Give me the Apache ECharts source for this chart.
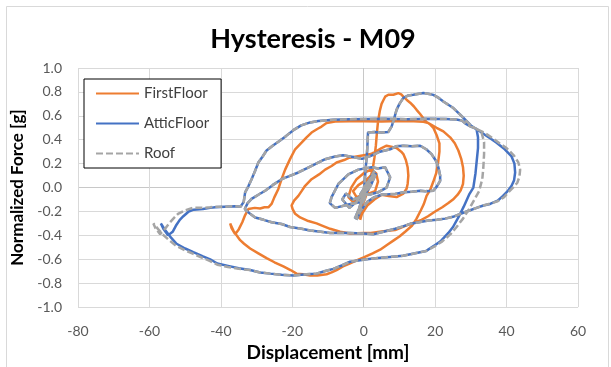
<!DOCTYPE html>
<html>
<head>
<meta charset="utf-8">
<script src="https://cdn.jsdelivr.net/npm/echarts@6/dist/echarts.min.js"></script>
<style>
html,body{margin:0;padding:0;background:#fff;}
#chart{width:611px;height:367px;}
</style>
</head>
<body>
<div id="chart"></div>
<script>
const seriesNames = ["FirstFloor", "AtticFloor", "Roof"];
const xTicks = [-80, -60, -40, -20, 0, 20, 40, 60];
const yTicks = [-1.0, -0.8, -0.6, -0.4, -0.2, 0.0, 0.2, 0.4, 0.6, 0.8, 1.0];

const firstFloor = [
[0,0],[1,0.05],[-0.5,-0.05],[2,0.1],[-1,-0.12],[0.5,0.02],[3,0.12],[-1,-0.2],[-1.5,-0.26],[0,-0.1],[1.5,0.05],
[-1,-0.1],[-3,-0.12],[-4.3,-0.08],[-3.5,0.0],[-2,0.07],[0,0.12],[2,0.15],[3.5,0.12],[4,0.05],[3.2,-0.03],[1.5,-0.05],[0.5,-0.03],
[1.5,0.05],[2.5,0.15],[3,0.25],[3.4,0.35],[3.7,0.46],[4,0.55],[4.5,0.64],[5,0.7],[5.5,0.73],[6,0.76],[6.9,0.776],[8.3,0.776],[9.7,0.79],[10.5,0.78],[11.1,0.76],[12,0.735],[13,0.71],[14,0.68],[14.8,0.65],[15.8,0.615],[16.7,0.58],[17.5,0.55],[18.5,0.53],
[19.5,0.5],[20.4,0.44],[21.2,0.37],[21.2,0.3],[20.8,0.2],[20.3,0.12],[19.5,0.05],[18.6,-0.02],[17.6,-0.07],[16.8,-0.14],[16,-0.19],[14.8,-0.26],[13.5,-0.32],[11.6,-0.37],[10,-0.41],[8.5,-0.44],[6.5,-0.48],[4.6,-0.52],[2.5,-0.55],[0,-0.585],[-2,-0.61],[-3.8,-0.635],[-5.8,-0.66],[-7.6,-0.69],[-9,-0.71],[-10.4,-0.725],[-13,-0.735],[-15,-0.735],[-17,-0.725],[-18.8,-0.72],[-20.5,-0.69],[-22.5,-0.66],[-25,-0.625],[-27.2,-0.59],[-29.5,-0.55],[-31.8,-0.51],[-33.5,-0.47],[-34.6,-0.44],[-35.6,-0.40],
[-36.5,-0.36],[-37.4,-0.30],[-37,-0.34],[-36,-0.39],
[-35,-0.35],[-34,-0.29],[-33.2,-0.23],[-32.3,-0.18],[-30.5,-0.17],[-29,-0.175],[-27.8,-0.165],[-26.7,-0.165],[-25.8,-0.137],[-25,-0.08],[-23.9,-0.012],[-23,0.07],[-22,0.15],[-20.6,0.24],[-19.2,0.32],[-17.4,0.375],[-16,0.42],[-14.6,0.46],[-13,0.49],[-11.8,0.51],[-10.4,0.54],[-8,0.552],[-4,0.555],[0,0.555],[5,0.553],[10,0.556],[14,0.555],[16.7,0.55],[18.1,0.54],
[20.4,0.5],[22.3,0.47],[24.2,0.42],[25.5,0.37],[26.5,0.31],[27.3,0.24],[27.8,0.17],[28,0.1],[27.8,0.03],[27.2,-0.02],[26.3,-0.06],[25,-0.1],[23.7,-0.13],[22,-0.165],[20,-0.2],[18,-0.24],[16.2,-0.27],[14.4,-0.29],[12.5,-0.31],[10.5,-0.335],[8.8,-0.355],[5.5,-0.365],[2,-0.38],[0,-0.38],[-3.8,-0.385],[-6.6,-0.37],[-9.4,-0.345],[-11.5,-0.32],[-13.2,-0.30],[-15.5,-0.28],[-17.8,-0.25],[-19.2,-0.22],[-19.9,-0.18],[-20.2,-0.15],
[-19.5,-0.11],[-18.3,-0.07],[-17.4,-0.03],[-16.4,0.015],[-14.6,0.07],[-12.5,0.11],[-10.8,0.15],[-9,0.18],[-7.6,0.21],[-5.5,0.23],[-4,0.25],[-2,0.26],[0,0.27],[2,0.28],[3.6,0.305],[5,0.33],[6.4,0.35],[8,0.34],[9.2,0.33],[10.5,0.3],[11.1,0.28],[11.8,0.23],[12.3,0.17],[12.5,0.1],[12.3,0.03],[12,-0.01],[11.1,-0.05],[9.2,-0.08],[7,-0.07],[5,-0.06],
[3,-0.1],[1,-0.15],[-0.5,-0.22],[-1,-0.27],[-0.3,-0.15],[1,-0.02],[2.5,0.08],[1.5,0.02],[0,-0.06],[-2,-0.08],[-3,-0.03],[-1.5,0.02],[0.5,0.06],[2,0.1],[1,0.03],[0,0]
];

const atticFloor = [
[0,0],[1.5,0.06],[-1,-0.06],[2.5,0.1],[-2,-0.12],[1,0.03],[3,0.14],[-1.5,-0.2],[-2.5,-0.26],[-0.5,-0.12],
[-4,-0.14],[-8,-0.17],[-9.5,-0.13],[-9,-0.08],[-7.1,0.03],[-4.3,0.11],[-1.5,0.15],[2.2,0.17],[4,0.16],[6,0.17],[7.4,0.085],[6.4,0.0],[4,-0.04],[1.5,-0.06],[0,-0.04],
[0.3,0.05],[0.5,0.15],[0.8,0.24],[1,0.33],[1.2,0.46],[3,0.465],[5,0.46],[6.9,0.465],[7.8,0.51],[8.3,0.555],[9.2,0.65],[10,0.7],[11.1,0.75],[12.5,0.77],[13.9,0.776],[15.5,0.785],[16.7,0.79],[18,0.785],[19.5,0.775],[21,0.75],[22.3,0.72],[23.8,0.69],[25.1,0.665],[27,0.61],[28.5,0.565],[30,0.52],[31.6,0.485],
[32,0.42],[32,0.33],[31.6,0.21],[31.3,0.12],[30.7,0.0],[29.5,-0.06],[28,-0.16],[26.5,-0.25],[25,-0.33],[23.7,-0.38],[21.5,-0.45],[20,-0.48],[17.5,-0.53],[14.4,-0.55],[11,-0.57],[7.4,-0.58],[4,-0.59],[0.8,-0.6],[-3.8,-0.62],[-6,-0.65],[-8.5,-0.68],[-11,-0.7],[-13.2,-0.72],[-16,-0.725],[-19.7,-0.735],[-23,-0.73],[-26.2,-0.72],[-29,-0.71],[-31.8,-0.69],[-35,-0.675],[-38,-0.655],[-41,-0.635],[-43,-0.6],[-45,-0.575],[-47.7,-0.54],[-50,-0.51],[-52.4,-0.47],[-54.2,-0.41],
[-55.5,-0.36],[-56.8,-0.30],[-56,-0.35],[-54.8,-0.40],
[-53.5,-0.37],[-52.6,-0.32],[-51.5,-0.27],[-50.5,-0.24],[-49,-0.2],[-47.6,-0.185],[-45,-0.18],[-43,-0.17],[-41.6,-0.165],[-39,-0.16],[-36,-0.156],[-34.5,-0.16],[-33.6,-0.12],
[-33.2,-0.04],[-32.3,0.01],[-31.4,0.07],[-30.4,0.14],[-29.5,0.21],[-28.3,0.26],[-27.2,0.31],[-25.5,0.35],[-23.6,0.39],[-21.8,0.43],[-19.7,0.48],[-17.5,0.52],[-15,0.545],[-12.7,0.556],[-8.5,0.568],[-4,0.572],[0.8,0.574],[6,0.575],[12,0.572],[18,0.575],[23,0.573],[26,0.57],[27.5,0.56],[28.5,0.535],[30,0.51],[31.6,0.49],
[34,0.44],[35.5,0.41],[37.2,0.375],[39.5,0.32],[41.4,0.26],[42.2,0.2],[42.4,0.126],[42.1,0.06],[41.4,0.015],[40.3,-0.03],[39,-0.07],[37.5,-0.11],[35.4,-0.137],[33.5,-0.15],[31.6,-0.17],[29.8,-0.19],[27.5,-0.215],[25,-0.245],[22.8,-0.26],[20.5,-0.27],[18.1,-0.275],[15.5,-0.29],[13.4,-0.30],[11,-0.325],[8.8,-0.345],[5.5,-0.37],[2.7,-0.39],[0,-0.385],[-3.8,-0.38],[-6.5,-0.38],[-9.4,-0.38],[-12,-0.37],[-15,-0.36],[-17.4,-0.345],[-20.6,-0.33],[-23,-0.305],[-25.8,-0.29],[-28,-0.27],[-30.4,-0.25],[-31.8,-0.22],[-33.3,-0.18],
[-32.5,-0.13],[-31.4,-0.095],[-29.5,-0.06],[-27.6,-0.027],[-25.5,0.02],[-23,0.07],[-20.5,0.1],[-18.3,0.126],[-16,0.16],[-13.6,0.195],[-10.8,0.237],[-8,0.26],[-5.8,0.27],[-3,0.255],[-0.5,0.24],[2,0.265],[4.5,0.3],[7.4,0.32],[9,0.345],[11.1,0.35],[13.5,0.345],[15.8,0.35],[17.5,0.32],[19,0.28],[20.3,0.22],[20.9,0.17],[21.4,0.1],[21.4,0.056],[20.5,0.01],[19.5,-0.027],[17.2,-0.03],[15.8,-0.027],[13.5,-0.035],[11.1,-0.04],[8.8,-0.054],[7.4,-0.055],[5,-0.06],
[3,-0.08],[1,-0.12],[-1,-0.2],[-2,-0.27],[-1.5,-0.2],[-0.5,-0.1],[1,0.0],[2,0.08],[1,0.02],[-1,-0.08],[-3,-0.1],[-5,-0.05],[-6,-0.1],[-4,-0.17],[-2,-0.12],[0,-0.05],[2,0.05],[3.5,0.12],[2,0.02],[0,-0.08]
];

const roof = [
[0,0],[1.5,0.06],[-1,-0.06],[2.5,0.1],[-2,-0.12],[1,0.03],[3,0.14],[-1.5,-0.2],[-2.5,-0.26],[-0.5,-0.12],
[-4,-0.14],[-8,-0.17],[-9.5,-0.13],[-9,-0.08],[-7.1,0.03],[-4.3,0.11],[-1.5,0.15],[2.2,0.17],[4,0.16],[6,0.17],[7.4,0.085],[6.4,0.0],[4,-0.04],[1.5,-0.06],[0,-0.04],
[0.3,0.05],[0.5,0.15],[0.8,0.24],[1,0.33],[1.2,0.46],[3,0.465],[5,0.46],[6.9,0.465],[7.8,0.51],[8.3,0.555],[9.2,0.65],[10,0.7],[11.1,0.75],[12.5,0.77],[13.9,0.776],[15.5,0.785],[16.7,0.79],[18,0.785],[19.5,0.775],[21,0.75],[22.3,0.72],[23.8,0.69],[25.1,0.665],[27,0.61],[28.5,0.565],[30,0.52],[31.6,0.49],
[33,0.46],[33.7,0.38],[33.7,0.28],[33.5,0.17],[33.2,0.07],[32.3,-0.03],[31,-0.1],[29.5,-0.18],[27.8,-0.26],[26,-0.33],[24.3,-0.39],[22,-0.45],[20,-0.49],[17.5,-0.53],[14.4,-0.55],[11,-0.57],[7.4,-0.58],[4,-0.59],[0.8,-0.6],[-3.8,-0.62],[-6,-0.65],[-8.5,-0.68],[-11,-0.7],[-13.2,-0.72],[-16,-0.725],[-19.7,-0.735],[-23,-0.73],[-26.2,-0.72],[-29,-0.71],[-31.8,-0.69],[-35,-0.68],[-38,-0.665],[-41,-0.645],[-43,-0.615],[-45,-0.59],[-47.7,-0.555],[-50,-0.525],[-52.4,-0.49],[-54.5,-0.44],[-56,-0.40],
[-57.5,-0.35],[-58.9,-0.30],[-58.3,-0.34],[-57,-0.39],
[-55.5,-0.34],[-54.5,-0.3],[-53.3,-0.26],[-52,-0.22],[-50,-0.19],[-47.7,-0.168],[-45,-0.17],[-43,-0.165],[-41.6,-0.16],[-39,-0.16],[-36,-0.156],[-34.5,-0.16],[-33.6,-0.12],
[-33.2,-0.04],[-32.3,0.01],[-31.4,0.07],[-30.4,0.14],[-29.5,0.21],[-28.3,0.26],[-27.2,0.31],[-25.5,0.35],[-23.6,0.39],[-21.8,0.43],[-19.7,0.48],[-17.5,0.52],[-15,0.545],[-12.7,0.556],[-8.5,0.568],[-4,0.572],[0.8,0.574],[6,0.575],[12,0.572],[18,0.575],[23,0.573],[26,0.57],[27.5,0.56],[28.5,0.535],[30,0.51],[31.6,0.49],
[33,0.47],[34.5,0.445],[36,0.415],[38,0.37],[40,0.33],[42,0.27],[43.3,0.21],[43.8,0.15],[43.6,0.09],[43,0.04],[41.8,0.0],[40.5,-0.04],[39.3,-0.08],[37.5,-0.115],[35.4,-0.135],[33.5,-0.15],[31.6,-0.17],[29.8,-0.19],[27.5,-0.215],[25,-0.245],[22.8,-0.26],[20.5,-0.27],[18.1,-0.275],[15.5,-0.29],[13.4,-0.30],[11,-0.325],[8.8,-0.345],[5.5,-0.37],[2.7,-0.39],[0,-0.385],[-3.8,-0.38],[-6.5,-0.38],[-9.4,-0.38],[-12,-0.37],[-15,-0.36],[-17.4,-0.345],[-20.6,-0.33],[-23,-0.305],[-25.8,-0.29],[-28,-0.27],[-30.4,-0.25],[-31.8,-0.22],[-33.3,-0.18],
[-32.5,-0.13],[-31.4,-0.095],[-29.5,-0.06],[-27.6,-0.027],[-25.5,0.02],[-23,0.07],[-20.5,0.1],[-18.3,0.126],[-16,0.16],[-13.6,0.195],[-10.8,0.237],[-8,0.26],[-5.8,0.27],[-3,0.255],[-0.5,0.24],[2,0.265],[4.5,0.3],[7.4,0.32],[9,0.345],[11.1,0.35],[13.5,0.345],[15.8,0.35],[17.5,0.32],[19,0.28],[20.3,0.22],[20.9,0.17],[21.4,0.1],[21.4,0.056],[20.5,0.01],[19.5,-0.027],[17.2,-0.03],[15.8,-0.027],[13.5,-0.035],[11.1,-0.04],[8.8,-0.054],[7.4,-0.055],[5,-0.06],
[3,-0.08],[1,-0.12],[-1,-0.2],[-2,-0.27],[-1.5,-0.2],[-0.5,-0.1],[1,0.0],[2,0.08],[1,0.02],[-1,-0.08],[-3,-0.1],[-5,-0.05],[-6,-0.1],[-4,-0.17],[-2,-0.12],[0,-0.05],[2,0.05],[3.5,0.12],[2,0.02],[0,-0.08],[-1.5,-0.18],[-2,-0.24],[-0.5,-0.14],[1,-0.05],[-1,-0.12],[0.5,-0.02]
];

const FONT = 'Lato';
const gridColor = '#D9D9D9';
const zeroColor = '#C8C8C8';
const xLineColors = xTicks.map(v => v === 0 ? zeroColor : gridColor);
const yLineColors = yTicks.map(v => Math.abs(v) < 1e-9 ? zeroColor : gridColor);

const chart = echarts.init(document.getElementById('chart'), null, {renderer: 'canvas'});
chart.setOption({
  animation: false,
  backgroundColor: '#ffffff',
  textStyle: {fontFamily: FONT},
  grid: {left: 78, right: 33, top: 68, bottom: 58, containLabel: false},
  graphic: [
    {type: 'rect', shape: {x: 6.5, y: 6.5, width: 602, height: 420}, style: {fill: 'none', stroke: '#D9D9D9', lineWidth: 1}, silent: true, z: -10},
    {type: 'text', x: 313, y: 39, style: {text: 'Hysteresis - M09', font: 'bold 27px Lato', fill: '#000000', textAlign: 'center', textVerticalAlign: 'middle'}}
  ],
  legend: {
    orient: 'vertical',
    left: 84, top: 79,
    padding: [7, 12, 7, 11],
    itemWidth: 43, itemHeight: 14, itemGap: 15,
    borderColor: '#000000', borderWidth: 1,
    backgroundColor: '#ffffff',
    itemStyle: {opacity: 0},
    textStyle: {fontFamily: FONT, fontSize: 15, color: '#404040'},
    data: seriesNames
  },
  xAxis: {
    type: 'value', min: xTicks[0], max: xTicks[xTicks.length - 1], interval: 20,
    name: 'Displacement [mm]', nameLocation: 'middle', nameGap: 35,
    nameTextStyle: {fontFamily: FONT, fontWeight: 'bold', fontSize: 19, color: '#000000'},
    axisLine: {show: false}, axisTick: {show: false},
    axisLabel: {fontFamily: FONT, fontSize: 14, color: '#595959', margin: 17},
    splitLine: {show: true, lineStyle: {color: xLineColors, width: 1}}
  },
  yAxis: {
    type: 'value', min: yTicks[0], max: yTicks[yTicks.length - 1], interval: 0.2,
    name: 'Normalized Force [g]', nameLocation: 'middle', nameGap: 42,
    nameTextStyle: {fontFamily: FONT, fontWeight: 'bold', fontSize: 17, color: '#000000'},
    axisLine: {show: false}, axisTick: {show: false},
    axisLabel: {fontFamily: FONT, fontSize: 14, color: '#595959', margin: 16, formatter: v => v.toFixed(1)},
    splitLine: {show: true, lineStyle: {color: yLineColors, width: 1}}
  },
  series: [
    {name: seriesNames[0], type: 'line', data: firstFloor, symbol: 'none', showSymbol: false, smooth: false,
     lineStyle: {color: '#ED7D31', width: 2.5}, itemStyle: {color: '#ED7D31'}},
    {name: seriesNames[1], type: 'line', data: atticFloor, symbol: 'none', showSymbol: false, smooth: false,
     lineStyle: {color: '#4472C4', width: 2.5}, itemStyle: {color: '#4472C4'}},
    {name: seriesNames[2], type: 'line', data: roof, symbol: 'none', showSymbol: false, smooth: false,
     lineStyle: {color: '#A5A5A5', width: 2.5, type: [7, 3]}, itemStyle: {color: '#A5A5A5'}}
  ]
});
</script>
</body>
</html>
